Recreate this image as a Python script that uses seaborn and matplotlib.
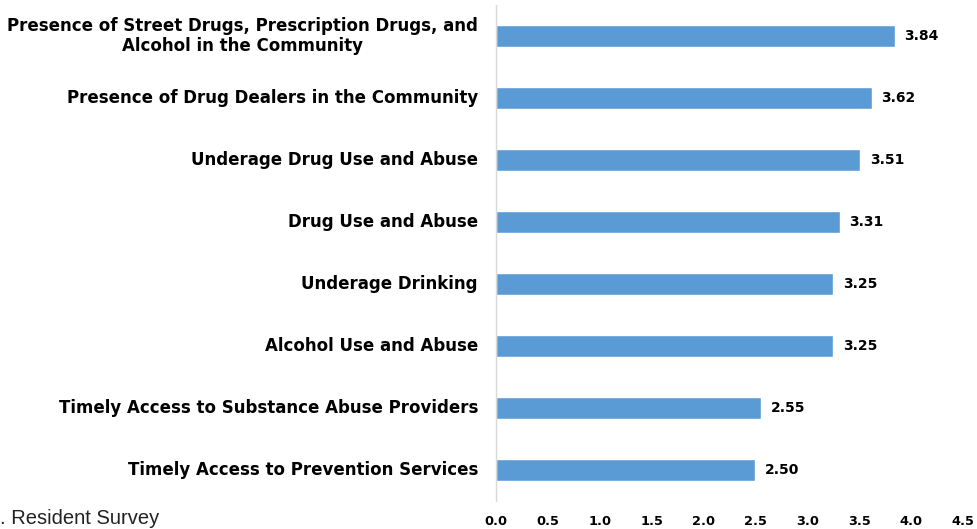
import matplotlib
matplotlib.use("Agg")
import matplotlib.pyplot as plt
import seaborn as sns
import pandas as pd

categories = [
    "Presence of Street Drugs, Prescription Drugs, and\nAlcohol in the Community",
    "Presence of Drug Dealers in the Community",
    "Underage Drug Use and Abuse",
    "Drug Use and Abuse",
    "Underage Drinking",
    "Alcohol Use and Abuse",
    "Timely Access to Substance Abuse Providers",
    "Timely Access to Prevention Services",
]
values = [3.84, 3.62, 3.51, 3.31, 3.25, 3.25, 2.55, 2.50]
xticks = [0.0, 0.5, 1.0, 1.5, 2.0, 2.5, 3.0, 3.5, 4.0, 4.5]

sns.set_theme(style="white")
plt.rcParams['font.family'] = ['DejaVu Sans']

df = pd.DataFrame({"cat": categories, "val": values})

fig = plt.figure(figsize=(9.77, 5.29), dpi=100)
ax = fig.add_axes([496/977, 28/529, (963-496)/977, (501-5)/529])
sns.barplot(data=df, y="cat", x="val", orient="h", color="#5B9BD5",
            saturation=1, width=0.355, ax=ax)

ax.set_xlim(0, 4.5)
ax.set_xticks(xticks)
ax.set_xticklabels([f"{t:.1f}" for t in xticks], fontsize=9.3, fontweight="bold")
ax.set_xlabel("")
ax.set_ylabel("")
for lbl in ax.get_yticklabels():
    lbl.set_fontweight("bold")
    lbl.set_fontsize(12)
    lbl.set_multialignment("center")
    lbl.set_linespacing(1.1)
    lbl.set_verticalalignment("center")
ax.tick_params(axis="both", length=0, colors="black")
ax.tick_params(axis="x", pad=10)
ax.tick_params(axis="y", pad=13)

for s in ["top", "right", "bottom"]:
    ax.spines[s].set_visible(False)
ax.spines["left"].set_color("#D9D9D9")
ax.spines["left"].set_linewidth(1)

for i, v in enumerate(values):
    ax.text(v + 0.095, i, f"{v:.2f}", va="center", ha="left",
            fontsize=10, fontweight="bold", color="black")

fig.text(0 / 977, 1 - 519/529, ". Resident Survey", fontsize=14.5,
         ha="left", va="center", color="#222222",
         family=["Liberation Sans", "DejaVu Sans"])

fig.savefig("out.png", dpi=100)
